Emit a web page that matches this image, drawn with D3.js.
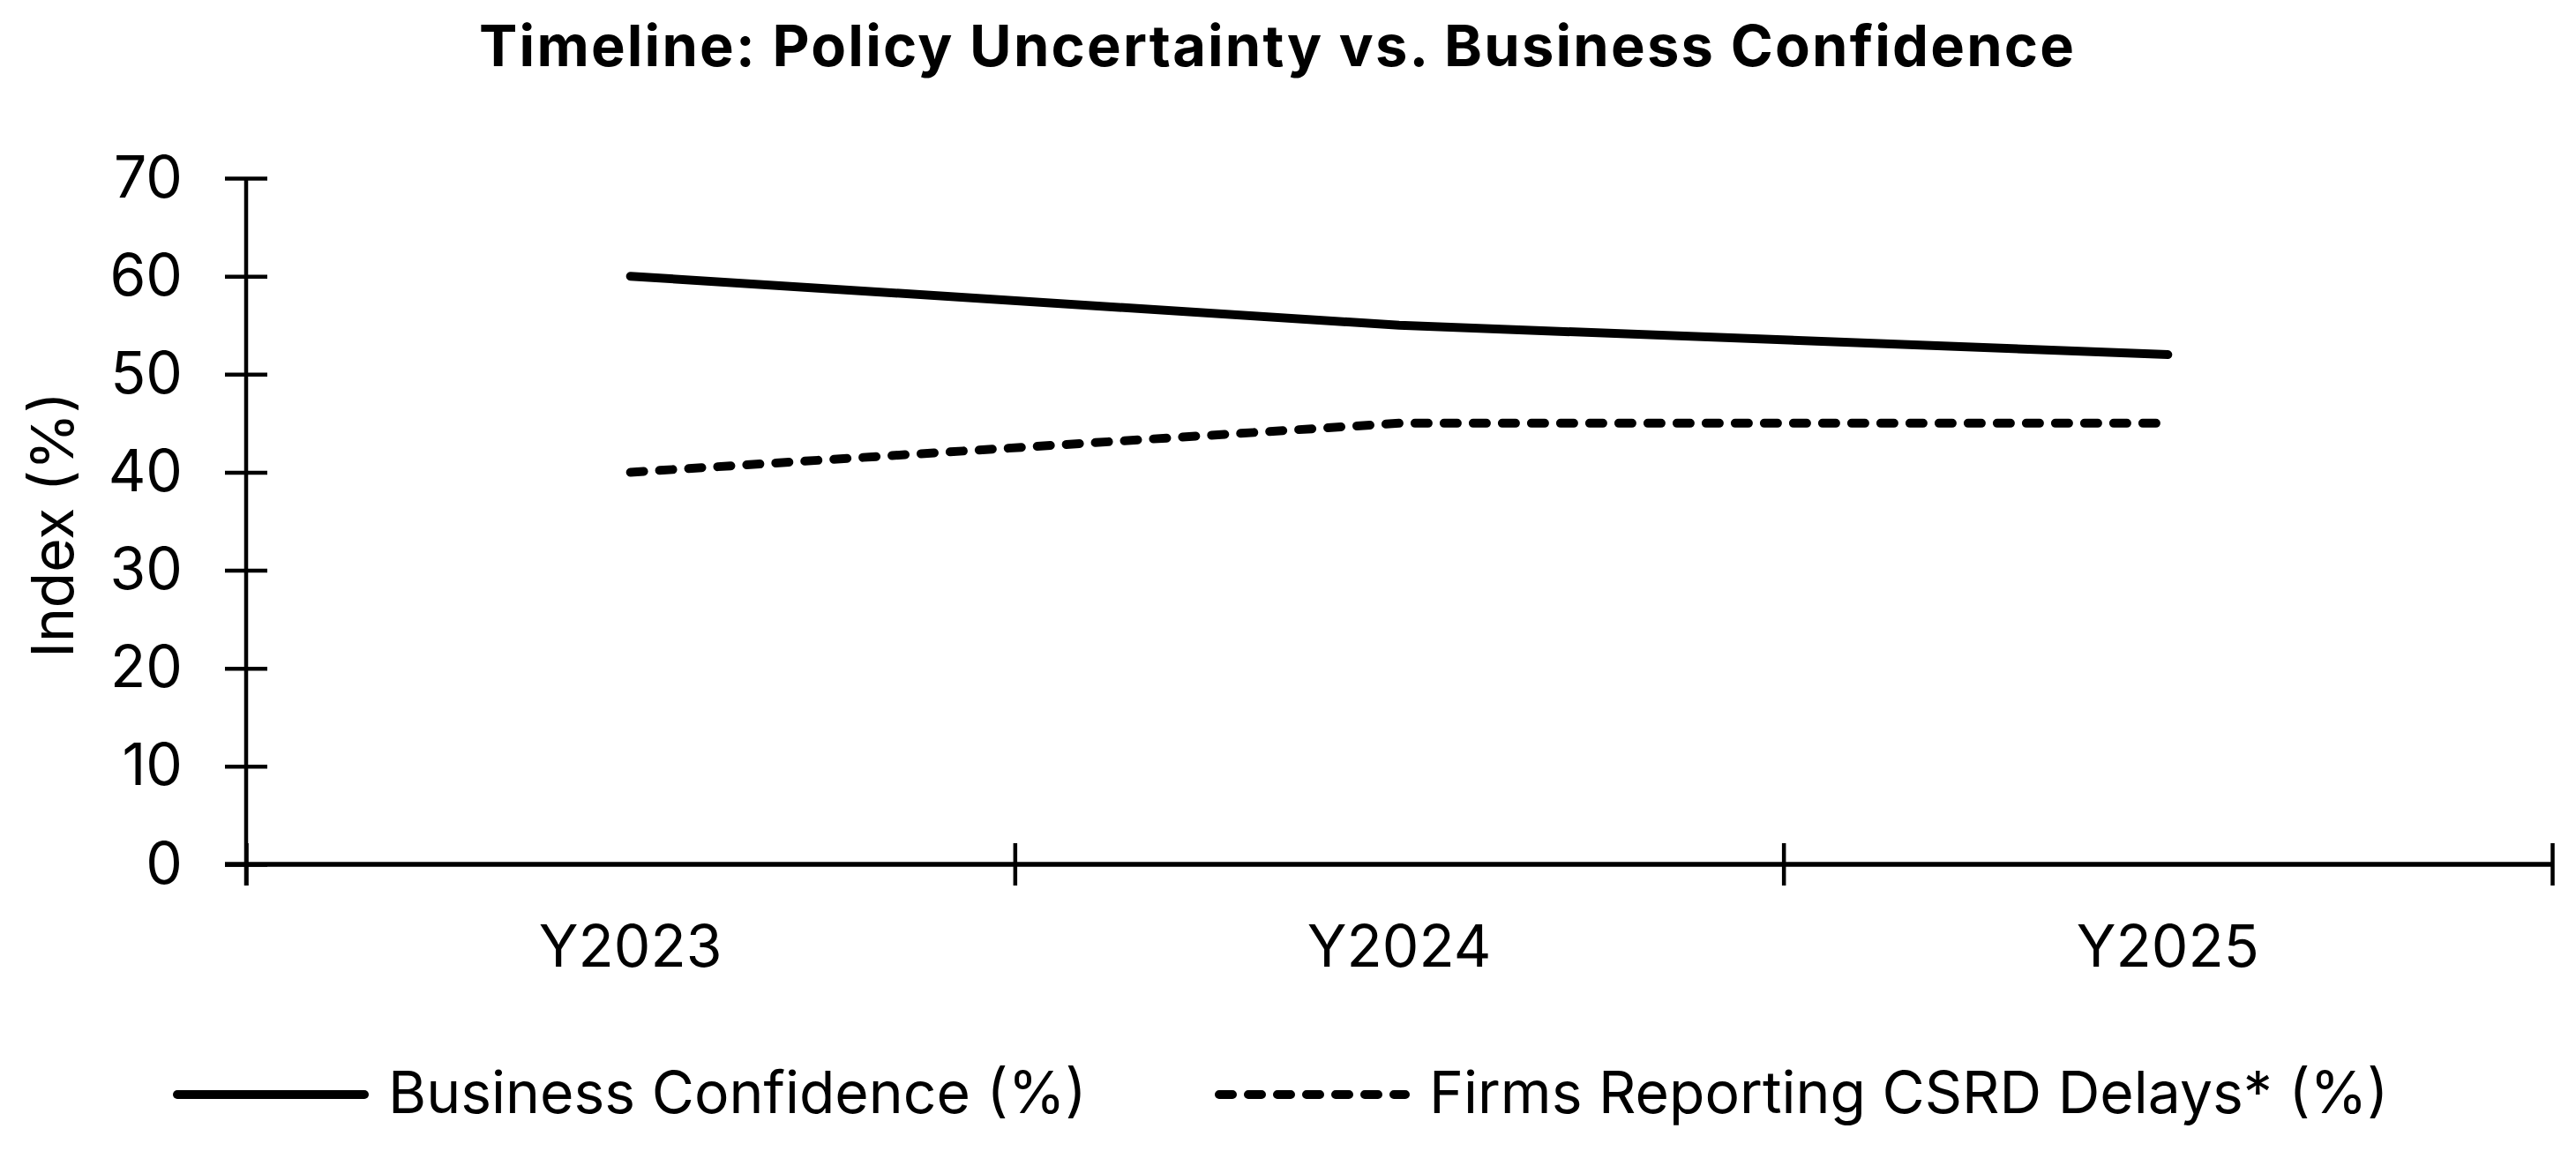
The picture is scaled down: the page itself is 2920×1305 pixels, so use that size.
<!DOCTYPE html>
<html>
<head>
<meta charset="utf-8">
<script src="https://cdn.jsdelivr.net/npm/d3@7"></script>
<style>
  body { margin: 0; background: #fff; }
  svg text { font-family: Inter, "Liberation Sans", Arial, sans-serif; fill: #000; }
</style>
</head>
<body>
<svg id="chart" width="2920" height="1305"></svg>
<script>
// chart data
var categories = ["Y2023", "Y2024", "Y2025"];
var businessConfidence = [60, 55, 52];
var csrdDelays = [40, 45, 45];
var yTicks = [0, 10, 20, 30, 40, 50, 60, 70];
var seriesNames = ["Business Confidence (%)", "Firms Reporting CSRD Delays* (%)"];

var svg = d3.select("#chart");
// note: "top" is taken by window.top, so plot edges get their own names
var plotLeft = 279, plotRight = 2893, plotTop = 202, plotBottom = 980;

var y = d3.scaleLinear().domain([0, 70]).range([plotBottom, plotTop]);
var x = d3.scaleBand().domain(categories).range([plotLeft, plotRight]).padding(0);
// boundaries between categories, where Excel puts its ticks
var xb = d3.scaleLinear().domain([0, categories.length]).range([plotLeft, plotRight]);

// title
svg.append("text")
    .attr("x", 1447)
    .attr("y", 75)
    .attr("text-anchor", "middle")
    .attr("textLength", 1808)
    .attr("lengthAdjust", "spacing")
    .style("font-size", "65px")
    .style("font-weight", 700)
    .text("Timeline: Policy Uncertainty vs. Business Confidence");

// y axis
var yAxis = svg.append("g")
    .attr("transform", "translate(" + plotLeft + ",0)")
    .call(d3.axisLeft(y).tickValues(yTicks).tickSize(24).tickPadding(48));
yAxis.selectAll(".tick line").attr("x1", -24).attr("x2", 24)
    .attr("stroke", "#000").attr("stroke-width", 4.5);
yAxis.select(".domain").attr("d", "M0," + (plotBottom + 24) + "V" + plotTop)
    .attr("stroke", "#000").attr("stroke-width", 4.5);
yAxis.selectAll(".tick text").style("font-size", "66px").attr("dy", "0.32em");

// x axis line and ticks
var xAxis = svg.append("g")
    .attr("transform", "translate(0," + plotBottom + ")")
    .call(d3.axisBottom(xb).tickValues(d3.range(categories.length + 1)).tickFormat(""));
xAxis.selectAll(".tick line").attr("y1", -24).attr("y2", 24)
    .attr("stroke", "#000").attr("stroke-width", 4.5);
xAxis.select(".domain").attr("d", "M" + (plotLeft - 24) + ",0H" + plotRight)
    .attr("stroke", "#000").attr("stroke-width", 5.5);

// x labels
var xLabels = svg.append("g")
    .attr("transform", "translate(0," + plotBottom + ")")
    .call(d3.axisBottom(x).tickSize(0));
xLabels.select(".domain").remove();
xLabels.selectAll(".tick text").attr("y", 116).attr("dy", 0).style("font-size", "66px");

// y axis title
svg.append("text")
    .attr("transform", "translate(83,595) rotate(-90)")
    .attr("text-anchor", "middle")
    .style("font-size", "66px")
    .text("Index (%)");

// lines (straight segments between the yearly points)
var line = d3.line()
    .x(function(d, i) { return x(categories[i]) + x.bandwidth() / 2; })
    .y(function(d) { return y(d); });

svg.append("path")
    .datum(businessConfidence)
    .attr("d", line)
    .attr("fill", "none")
    .attr("stroke", "#000")
    .attr("stroke-width", 10)
    .attr("stroke-linejoin", "round")
    .attr("stroke-linecap", "round");

svg.append("path")
    .datum(csrdDelays)
    .attr("d", line)
    .attr("fill", "none")
    .attr("stroke", "#000")
    .attr("stroke-width", 10)
    .attr("stroke-dasharray", "15,18")
    .attr("stroke-linejoin", "round")
    .attr("stroke-linecap", "round");

// legend
var legend = [
  { name: seriesNames[0], x1: 201, x2: 413, tx: 440, dash: null },
  { name: seriesNames[1], x1: 1382, x2: 1593, tx: 1620, dash: "15,18" }
];
legend.forEach(function(l) {
  svg.append("line")
      .attr("x1", l.x1).attr("x2", l.x2)
      .attr("y1", 1241).attr("y2", 1241)
      .attr("stroke", "#000")
      .attr("stroke-width", 10)
      .attr("stroke-linecap", "round")
      .attr("stroke-dasharray", l.dash);
  svg.append("text")
      .attr("x", l.tx)
      .attr("y", 1262)
      .style("font-size", "66px")
      .text(l.name);
});
</script>
</body>
</html>
